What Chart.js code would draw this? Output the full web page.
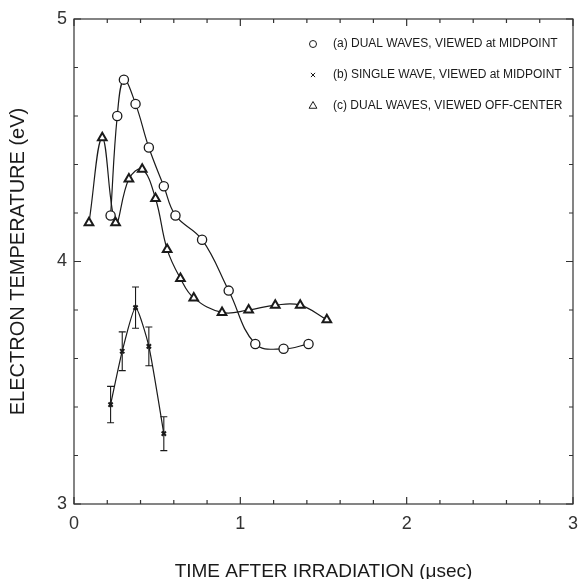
<!DOCTYPE html>
<html>
<head>
<meta charset="utf-8">
<script src="https://cdn.jsdelivr.net/npm/chart.js@4"></script>
<style>
    body { margin: 0; background: #fff; }
    #wrap { width: 580px; height: 579px; }
</style>
</head>
<body>
<div id="wrap"><canvas id="tempChart" width="580" height="579"></canvas></div>
<script>
// Temperatura eletrônica x tempo após irradiação
const aTime = [0.22, 0.26, 0.30, 0.37, 0.45, 0.54, 0.61, 0.77, 0.93, 1.09, 1.26, 1.41];
const aTemp = [4.19, 4.60, 4.75, 4.65, 4.47, 4.31, 4.19, 4.09, 3.88, 3.66, 3.64, 3.66];

const bTime = [0.22, 0.29, 0.37, 0.45, 0.54];
const bTemp = [3.41, 3.63, 3.81, 3.65, 3.29];
const bErr = [0.075, 0.08, 0.085, 0.08, 0.07];

const cTime = [0.09, 0.17, 0.25, 0.33, 0.41, 0.49, 0.56, 0.64, 0.72, 0.89, 1.05, 1.21, 1.36, 1.52];
const cTemp = [4.16, 4.51, 4.16, 4.34, 4.38, 4.26, 4.05, 3.93, 3.85, 3.79, 3.80, 3.82, 3.82, 3.76];

const xTicks = [0, 1, 2, 3];
const yTicks = [3, 4, 5];

const seriesLabels = [
    '(a) DUAL WAVES, VIEWED at MIDPOINT',
    '(b) SINGLE WAVE, VIEWED at MIDPOINT',
    '(c) DUAL WAVES, VIEWED OFF-CENTER'
];

const ink = '#1a1a1a';
const fontFamily = '"Liberation Sans", Arial, Helvetica, sans-serif';

function toPoints(xs, ys) {
    return xs.map((x, i) => ({ x: x, y: ys[i] }));
}

// Moldura com marcas para dentro nos quatro lados
const frameTicks = {
    id: 'frameTicks',
    afterDraw(chart) {
        const { ctx, chartArea: a, scales: { x, y } } = chart;
        ctx.save();
        ctx.strokeStyle = '#333';
        ctx.lineWidth = 1.2;
        ctx.strokeRect(a.left, a.top, a.right - a.left, a.bottom - a.top);
        ctx.beginPath();
        for (let i = 0; i <= 15; i++) {
            const px = x.getPixelForValue(i * 0.2);
            const len = i % 5 === 0 ? 7 : 4;
            ctx.moveTo(px, a.bottom); ctx.lineTo(px, a.bottom - len);
            ctx.moveTo(px, a.top); ctx.lineTo(px, a.top + len);
        }
        for (let i = 0; i <= 10; i++) {
            const py = y.getPixelForValue(3 + i * 0.2);
            const len = i % 5 === 0 ? 7 : 4;
            ctx.moveTo(a.left, py); ctx.lineTo(a.left + len, py);
            ctx.moveTo(a.right, py); ctx.lineTo(a.right - len, py);
        }
        ctx.stroke();
        ctx.restore();
    }
};

// Barras de erro da série (b)
const errorBars = {
    id: 'errorBars',
    afterDatasetsDraw(chart) {
        const { ctx, scales: { x, y } } = chart;
        ctx.save();
        ctx.strokeStyle = ink;
        ctx.lineWidth = 1.1;
        ctx.beginPath();
        bTime.forEach((t, i) => {
            const px = x.getPixelForValue(t);
            const top = y.getPixelForValue(bTemp[i] + bErr[i]);
            const bot = y.getPixelForValue(bTemp[i] - bErr[i]);
            ctx.moveTo(px, top); ctx.lineTo(px, bot);
            ctx.moveTo(px - 3.5, top); ctx.lineTo(px + 3.5, top);
            ctx.moveTo(px - 3.5, bot); ctx.lineTo(px + 3.5, bot);
        });
        ctx.stroke();
        ctx.restore();
    }
};

// Legenda dentro da área do gráfico
const insideLegend = {
    id: 'insideLegend',
    afterDraw(chart) {
        const { ctx, chartArea: a } = chart;
        const markers = [
            { pointStyle: 'circle', radius: 3.5, borderWidth: 1.5 },
            { pointStyle: 'crossRot', radius: 3, borderWidth: 2 },
            { pointStyle: 'triangle', radius: 4.5, borderWidth: 2 }
        ];
        ctx.save();
        ctx.font = '12px ' + fontFamily;
        ctx.textBaseline = 'middle';
        seriesLabels.forEach((label, i) => {
            const cy = a.top + 25 + i * 31;
            ctx.fillStyle = '#fff';
            ctx.strokeStyle = ink;
            Chart.helpers.drawPoint(ctx, markers[i], a.left + 239, cy);
            ctx.fillStyle = ink;
            ctx.fillText(label, a.left + 259, cy);
        });
        ctx.restore();
    }
};

const ctx = document.getElementById('tempChart').getContext('2d');
const tempChart = new Chart(ctx, {
    type: 'scatter',
    data: {
        datasets: [
            {
                label: seriesLabels[0],
                data: toPoints(aTime, aTemp),
                showLine: true,
                tension: 0.4,
                borderColor: ink,
                borderWidth: 1.2,
                pointStyle: 'circle',
                pointRadius: 4.6,
                pointBorderWidth: 1.3,
                pointBorderColor: ink,
                pointBackgroundColor: '#fff'
            },
            {
                label: seriesLabels[1],
                data: toPoints(bTime, bTemp),
                showLine: true,
                tension: 0.2,
                borderColor: ink,
                borderWidth: 1.2,
                pointStyle: 'crossRot',
                pointRadius: 3,
                pointBorderWidth: 2,
                pointBorderColor: ink
            },
            {
                label: seriesLabels[2],
                data: toPoints(cTime, cTemp),
                showLine: true,
                tension: 0.4,
                borderColor: ink,
                borderWidth: 1.2,
                pointStyle: 'triangle',
                pointRadius: 5,
                pointBorderWidth: 2,
                pointBorderColor: ink,
                pointBackgroundColor: '#fff'
            }
        ]
    },
    options: {
        responsive: false,
        animation: false,
        layout: { padding: { top: 19, right: 5, left: 6, bottom: 0 } },
        scales: {
            x: {
                type: 'linear',
                min: 0,
                max: 3,
                grid: { display: false, drawTicks: false },
                border: { display: false },
                afterBuildTicks: s => { s.ticks = xTicks.map(v => ({ value: v })); },
                afterFit: s => { s.height = 75; s.paddingLeft = 0; s.paddingRight = 0; },
                ticks: {
                    padding: 9,
                    color: '#333',
                    font: { family: fontFamily, size: 18 }
                },
                title: {
                    display: true,
                    text: 'TIME AFTER IRRADIATION (μsec)',
                    color: ink,
                    padding: { top: 0, bottom: -4 },
                    font: { family: fontFamily, size: 19 }
                }
            },
            y: {
                type: 'linear',
                min: 3,
                max: 5,
                grid: { display: false, drawTicks: false },
                border: { display: false },
                afterBuildTicks: s => { s.ticks = yTicks.map(v => ({ value: v })); },
                afterFit: s => { s.width = 68; s.paddingTop = 0; s.paddingBottom = 0; },
                ticks: {
                    padding: 7,
                    color: '#333',
                    font: { family: fontFamily, size: 18 }
                },
                title: {
                    display: true,
                    text: 'ELECTRON TEMPERATURE (eV)',
                    color: ink,
                    padding: { top: 0, bottom: 0 },
                    font: { family: fontFamily, size: 20 }
                }
            }
        },
        plugins: {
            legend: { display: false },
            tooltip: { enabled: false }
        }
    },
    plugins: [frameTicks, errorBars, insideLegend]
});
</script>
</body>
</html>
